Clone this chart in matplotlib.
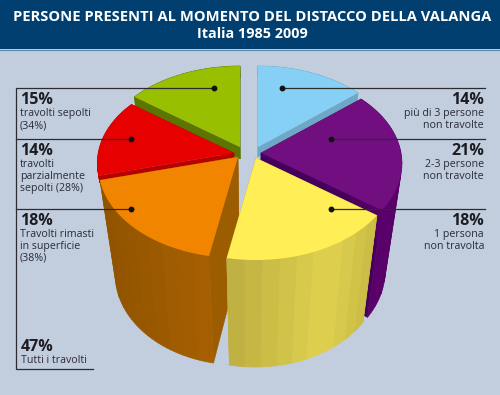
import numpy as np
import matplotlib
matplotlib.use('Agg')
import matplotlib.pyplot as plt
from matplotlib.colors import to_rgb
from matplotlib.patches import Polygon, Rectangle

# share of people for each slice, clockwise from the top
names = ['piu di 3', '2-3', '1', 'superficie', 'parziali', 'sepolti']
values = [14, 21, 18, 18, 14, 15]
top_colors = ['#87d0f5', '#710f80', '#ffee55', '#f28500', '#e60000', '#98bf00']
cut_colors = ['#6ea8c6', '#45005c', '#c2b040', '#9c5c00', '#b80000', '#5c7400']

# wall shading of each slice: first edge, middle, last edge
wall_a = ['#6ea8c6', '#4e005e', '#c8ba45', '#a66000', '#b80000', '#5c7400']
wall_b = ['#6ea8c6', '#560065', '#e0d24e', '#9a5900', '#b80000', '#5c7400']
wall_c = ['#6ea8c6', '#5a006a', '#bdae42', '#8f5200', '#b80000', '#5c7400']

title_lines = ['PERSONE PRESENTI AL MOMENTO DEL DISTACCO DELLA VALANGA', 'Italia 1985 2009']

# apex of each slice in pixels, size and thickness
apex = [(258, 147), (261, 153), (256, 158), (238, 157), (234, 153), (240, 147)]
scale = [1, 1, 1, 0.99, 0.97, 1]
depth = [10, 107, 107, 107, 7, 12]
draw_order = [5, 0, 4, 1, 3, 2]

RX, RY, K = 140, 91.5, 0.115
SHRINK = 0.89
MID = 250

bg = '#c2cedd'
ink = '#2b2b30'

plt.rcParams['font.family'] = ['Open Sans', 'DejaVu Sans']

fig = plt.figure(figsize=(5, 3.95), dpi=100, facecolor=bg)
ax = fig.add_axes([0, 0, 1, 1])
ax.set_xlim(0, 500)
ax.set_ylim(395, 0)
ax.axis('off')


def top_pt(i, deg):
    t = np.radians(deg)
    s = (1 - K * np.cos(t)) * scale[i]
    return apex[i][0] + np.sin(t) * RX * s, apex[i][1] - np.cos(t) * RY * s


def down(i, p):
    f = 1 - (1 - SHRINK) * depth[i] / 107
    return MID + (p[0] - MID) * f, p[1] + depth[i]


def wall_color(i, frac):
    pts = np.array([to_rgb(wall_a[i]), to_rgb(wall_b[i]), to_rgb(wall_c[i])])
    return tuple(np.interp(frac, [0, 0.4, 1], pts[:, k]) for k in range(3))


edges = np.concatenate([[0], np.cumsum(values)]) * 3.6

for i in draw_order:
    a0, a1 = edges[i], edges[i + 1]
    c = apex[i]
    for a in (a0, a1):
        p = top_pt(i, a)
        ax.add_patch(Polygon([c, p, down(i, p), down(i, c)], closed=True, fc=cut_colors[i], ec=cut_colors[i], lw=0.3))
    steps = np.linspace(a0, a1, 11)
    for n, (b0, b1) in enumerate(zip(steps[:-1], steps[1:])):
        arc = [top_pt(i, a) for a in np.linspace(b0, b1, 6)]
        low = [down(i, p) for p in arc[::-1]]
        col = wall_color(i, (n + 0.5) / 10)
        ax.add_patch(Polygon(arc + low, closed=True, fc=col, ec=col, lw=0.5))
    arc = [top_pt(i, a) for a in np.linspace(a0, a1, 60)]
    ax.add_patch(Polygon([c] + arc, closed=True, fc=top_colors[i], ec='none'))

# header band
ax.add_patch(Rectangle((0, 0), 500, 49, fc='#003f6f', ec='none', zorder=5))
ax.plot([0, 500], [49.5, 49.5], color='#5f86a8', lw=0.8, zorder=5)
ax.text(252, 17, title_lines[0], color='white', fontsize=10.6, fontweight='bold', ha='center', va='center', zorder=6)
ax.text(252, 34, title_lines[1], color='white', fontsize=10.4, fontweight='bold', ha='center', va='center', zorder=6)

# leader lines
ax.plot([214, 16, 16, 93], [88, 88, 369, 369], color=ink, lw=0.9, zorder=7, solid_joinstyle='miter')
for x0, x1, y in [(16, 131, 139), (16, 131, 209), (282, 485, 88), (331, 485, 139), (331, 485, 209)]:
    ax.plot([x0, x1], [y, y], color=ink, lw=0.9, zorder=7)
for x, y in [(214, 88), (131, 139), (131, 209), (282, 88), (331, 139), (331, 209)]:
    ax.plot([x], [y], 'o', color='#111111', ms=3.2, zorder=8)

# labels: (x, y of percent, percent, lines)
left_labels = [
    (20, 100, '15%', ['travolti sepolti', '(34%)']),
    (20, 151, '14%', ['travolti', 'parzialmente', 'sepolti (28%)']),
    (20, 221, '18%', ['Travolti rimasti', 'in superficie', '(38%)']),
    (21, 347, '47%', ['Tutti i travolti']),
]
right_labels = [
    (484, 100, '14%', ['più di 3 persone', 'non travolte']),
    (484, 151, '21%', ['2-3 persone', 'non travolte']),
    (484, 221, '18%', ['1 persona', 'non travolta']),
]
for labels, ha in [(left_labels, 'left'), (right_labels, 'right')]:
    for x, y, pct, lines in labels:
        ax.text(x, y, pct, fontsize=11.5, fontweight='bold', color='#1c1c22', ha=ha, va='center', zorder=9)
        for n, line in enumerate(lines):
            ax.text(x, y + 13.5 + 12 * n, line, fontsize=7.7, color='#2b2b38', ha=ha, va='center', zorder=9)

fig.savefig('out.png', dpi=100, facecolor=bg)
